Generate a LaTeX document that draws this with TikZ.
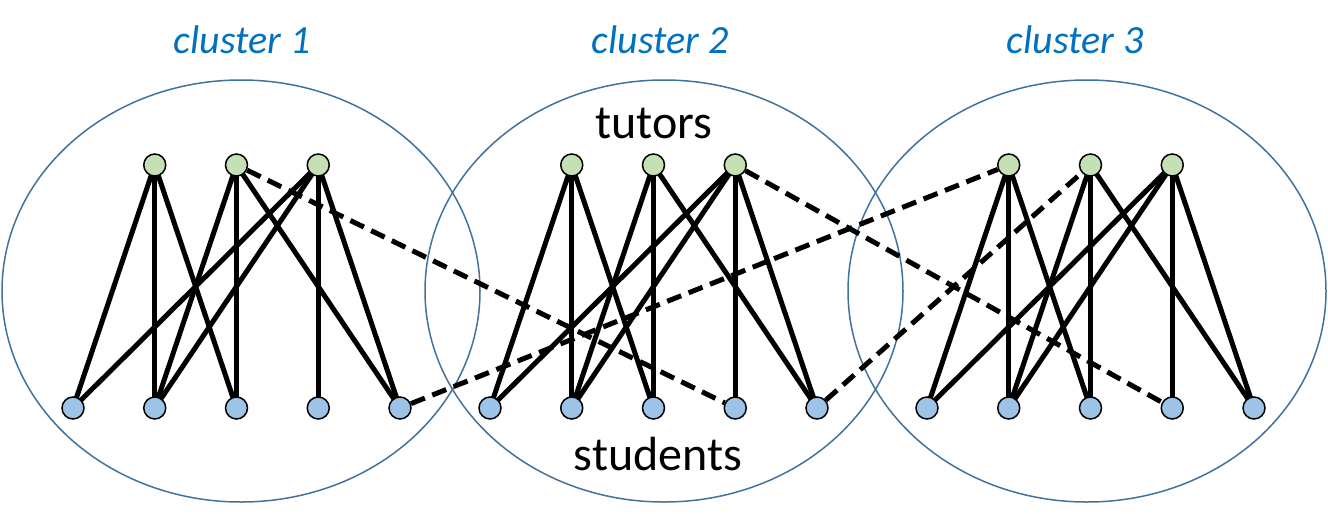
\documentclass[tikz,border=0pt]{standalone}
\usepackage{fontspec}
\setmainfont{Carlito}
\usetikzlibrary{backgrounds}

\definecolor{tutorgreen}{HTML}{C5E0B4}
\definecolor{studentblue}{HTML}{9DC3E6}
\definecolor{ringblue}{HTML}{41719C}
\definecolor{titleblue}{HTML}{0070C0}

\pgfdeclarelayer{edges}
\pgfsetlayers{background,edges,main}

\begin{document}
\begin{tikzpicture}[x=1pt, y=-1pt,
    tutor/.style={circle, draw, line width=1.5pt, fill=tutorgreen, minimum size=22pt, inner sep=0pt},
    student/.style={circle, draw, line width=1.5pt, fill=studentblue, minimum size=22pt, inner sep=0pt},
    link/.style={line width=5pt},
    bridge/.style={line width=5pt, dash pattern=on 15pt off 8pt},
    ring/.style={draw=ringblue, line width=1.5pt},
    title/.style={font=\fontsize{40}{48}\selectfont\itshape, text=titleblue, anchor=base},
    role/.style={font=\fontsize{48}{56}\selectfont, anchor=base}]
  \useasboundingbox (0,0) rectangle (1328,514);

  \foreach \c/\ex/\ox/\tx in {1/241/0/242, 2/664/417/660, 3/1087/854/1075} {
    \begin{scope}[on background layer]
      \draw[ring] (\ex,291) ellipse [x radius=239pt, y radius=211pt];
    \end{scope}
    \node[title] (title\c) at (\tx,53) {cluster \c};
    \foreach \i in {1,2,3}
      \node[tutor] (t\c\i) at (73+\ox+81.75*\i,165) {};
    \foreach \j in {1,...,5}
      \node[student] (s\c\j) at (73+\ox+81.75*\j-81.75,408) {};
    \begin{pgfonlayer}{edges}
      \foreach \i/\j in {1/1,1/2,1/3,2/2,2/3,2/5,3/1,3/2,3/4,3/5}
        \draw[link] (t\c\i.center) -- (s\c\j.center);
    \end{pgfonlayer}
  }

  \node[role] (tutors) at (654,138) {tutors};
  \node[role] (students) at (658,470) {students};

  % links between clusters
  \begin{pgfonlayer}{edges}
    \draw[bridge] (t12) -- (s24);
    \draw[bridge] (s15) -- (t31);
    \draw[bridge] (t23) -- (s34);
    \draw[bridge] (s25) -- (t32);
  \end{pgfonlayer}
\end{tikzpicture}
\end{document}
